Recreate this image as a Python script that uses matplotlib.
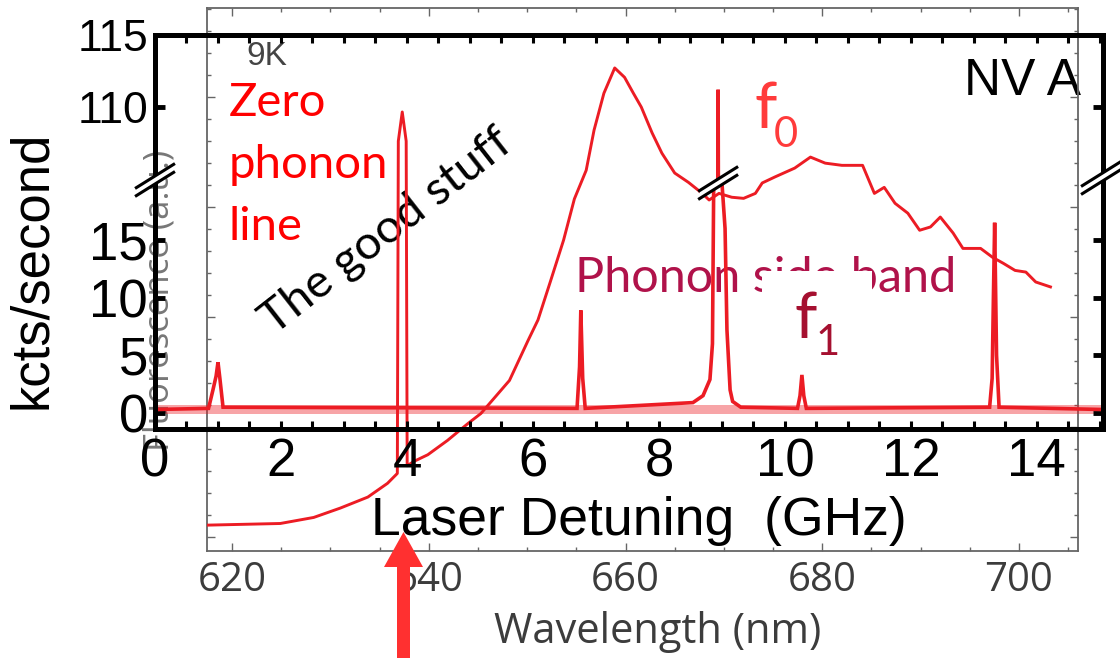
import numpy as np
import matplotlib
matplotlib.use("Agg")
import matplotlib.pyplot as plt
from matplotlib.patches import Polygon, Rectangle
from matplotlib.lines import Line2D
from matplotlib.ticker import MultipleLocator

plt.rcParams["font.family"] = ["Liberation Sans", "DejaVu Sans"]

# ---------------- data ----------------
# Fluorescence spectrum of the NV centre at 9 K (arbitrary units)
wavelength_nm = [617.45, 624.9, 628.3, 631.0, 633.8, 635.8, 636.8, 636.9, 637.3, 637.7,
                 637.8, 638.5, 639.9, 641.9, 644.0, 645.3, 648.2, 650.1, 651.1, 652.4,
                 653.7, 654.8, 656.0, 656.8, 657.8, 658.9, 659.9, 660.8, 661.6, 662.7,
                 663.7, 665.0, 666.4, 667.8, 668.5, 669.5, 670.8, 672.0, 673.2, 673.9,
                 675.2, 677.2, 678.8, 680.3, 682.0, 684.1, 685.3, 686.3, 687.4, 688.7,
                 689.9, 691.0, 692.0, 693.3, 694.3, 696.1, 697.3, 698.4, 699.6, 700.7,
                 701.7, 703.2]
fluorescence_au = [0.022, 0.025, 0.036, 0.053, 0.073, 0.098, 0.116, 0.720, 0.773, 0.720,
                   0.130, 0.138, 0.150, 0.176, 0.207, 0.225, 0.285, 0.358, 0.395, 0.467,
                   0.540, 0.615, 0.667, 0.740, 0.807, 0.853, 0.836, 0.807, 0.782, 0.735,
                   0.698, 0.662, 0.645, 0.625, 0.613, 0.625, 0.618, 0.616, 0.625, 0.644,
                   0.655, 0.671, 0.691, 0.680, 0.676, 0.676, 0.625, 0.636, 0.607, 0.589,
                   0.558, 0.564, 0.582, 0.553, 0.525, 0.525, 0.509, 0.498, 0.485, 0.482,
                   0.464, 0.455]

# Photoluminescence excitation scan (kcts/second vs laser detuning)
detuning_ghz = [0.00, 0.85, 0.92, 0.97, 1.00, 1.03, 1.08,
                6.70, 6.74, 6.76, 6.79, 6.83,
                8.54, 8.70, 8.81, 8.85, 8.87, 8.90, 8.94, 8.97, 9.00, 9.05, 9.08, 9.13, 9.17, 9.30,
                10.20, 10.24, 10.27, 10.30, 10.34,
                13.25, 13.29, 13.31, 13.33, 13.36, 13.40, 15.05]
kcts = [0.3, 0.4, 2.0, 3.2, 4.4, 3.0, 0.5,
        0.4, 4.0, 8.9, 3.0, 0.4,
        0.9, 1.5, 2.9, 6.0, 20.0, 60.0, 111.2, 60.0, 20.0, 16.0, 7.2, 2.0, 1.0, 0.5,
        0.4, 1.5, 3.3, 1.5, 0.4,
        0.5, 3.0, 10.0, 16.5, 5.0, 0.5, 0.3]
noise_band_kcts = (-0.1, 0.7)

wl_ticks = [620, 640, 660, 680, 700]
det_ticks = [0, 2, 4, 6, 8, 10, 12, 14]
low_ticks = [0, 5, 10, 15]
high_ticks = [110, 115]

# ---------------- figure ----------------
W, H = 1120, 658
fig = plt.figure(figsize=(W / 100, H / 100), dpi=100)


def fx(x):
    return x / W


def fy(y):
    return 1 - y / H


def box(l, t, r, b):
    return [fx(l), fy(b), (r - l) / W, (b - t) / H]


RED = "#ec1c24"
GREY = "#3c3c3c"

# --- spectrum panel (behind) ---
ax_bg = fig.add_axes(box(207, 8, 1078, 551), zorder=0)
ax_bg.plot(wavelength_nm, fluorescence_au, color=RED, lw=2.1, zorder=3)
ax_bg.set_xlim(617.45, 706.0)
ax_bg.set_ylim(-0.025, 0.962)
ax_bg.set_xticks(wl_ticks)
ax_bg.xaxis.set_minor_locator(MultipleLocator(5))
ax_bg.yaxis.set_major_locator(MultipleLocator(0.2))
ax_bg.yaxis.set_minor_locator(MultipleLocator(0.04))
ax_bg.tick_params(axis="both", which="both", direction="in", colors="#666666",
                  top=True, right=True, width=1.0)
ax_bg.tick_params(which="major", length=6)
ax_bg.tick_params(which="minor", length=3)
ax_bg.tick_params(axis="x", labelsize=29, labelcolor=GREY, pad=7)
ax_bg.tick_params(axis="y", labelleft=False)
for lab in ax_bg.get_xticklabels():
    lab.set_fontfamily("Open Sans")
for s in ax_bg.spines.values():
    s.set_color("#666666")
    s.set_linewidth(1.3)
ax_bg.text(fx(658), fy(643), "Wavelength (nm)", transform=fig.transFigure,
           ha="center", va="baseline", fontsize=30, color=GREY, family="Open Sans")
ax_bg.text(fx(160), fy(300), "Fluorescence (a.u.)", transform=fig.transFigure,
           ha="center", va="center", rotation=90, fontsize=25, color="#777777",
           family="Open Sans")
ax_bg.text(fx(246), fy(65), "9K", transform=fig.transFigure, ha="left",
           va="baseline", fontsize=24, color="#444444")

# annotations on the spectrum
ax_bg.text(fx(229), fy(116), "Zero", transform=fig.transFigure, color="#ff0000",
           fontsize=34, family="Lato", va="baseline", zorder=1)
ax_bg.text(fx(229), fy(178), "phonon", transform=fig.transFigure, color="#ff0000",
           fontsize=34, family="Lato", va="baseline", zorder=1)
ax_bg.text(fx(229), fy(240), "line", transform=fig.transFigure, color="#ff0000",
           fontsize=34, family="Lato", va="baseline", zorder=1)
ax_bg.text(fx(386), fy(231), "The good stuff", transform=fig.transFigure,
           color="black", fontsize=34, family="Lato", rotation=38,
           ha="center", va="center", rotation_mode="anchor", zorder=1)
ax_bg.text(fx(575), fy(292), "Phonon side band", transform=fig.transFigure,
           color="#b0124a", fontsize=35, family="Lato", va="baseline", zorder=1)
ax_bg.add_patch(Rectangle((fx(762), fy(372)), (872 - 762) / W, (372 - 271) / H,
                          transform=fig.transFigure, facecolor="white",
                          edgecolor="none", zorder=1.5, clip_on=False))
ax_bg.text(fx(795), fy(338), "f", transform=fig.transFigure, color="#a51030",
           fontsize=46, family="Lato", va="baseline", zorder=2)
ax_bg.text(fx(816), fy(355), "1", transform=fig.transFigure, color="#a51030",
           fontsize=30, family="Lato", va="baseline", zorder=2)
ax_bg.text(fx(755), fy(128), "f", transform=fig.transFigure, color="#ff3b3b",
           fontsize=46, family="Lato", va="baseline", zorder=2)
ax_bg.text(fx(774), fy(147), "0", transform=fig.transFigure, color="#ff3b3b",
           fontsize=30, family="Lato", va="baseline", zorder=2)
ax_bg.text(fx(1081), fy(95), "NV A", transform=fig.transFigure, color="black",
           fontsize=37, ha="right", va="baseline", zorder=2)

# --- excitation scan (front), broken y axis ---
ax_up = fig.add_axes(box(155, 35, 1103, 185), facecolor="none", zorder=2)
ax_lo = fig.add_axes(box(155, 185, 1103, 429), facecolor="none", zorder=2)

for ax in (ax_up, ax_lo):
    ax.fill_between([0, 15.05], *noise_band_kcts, color=RED, alpha=0.4, lw=0)
    ax.plot(detuning_ghz, kcts, color=RED, lw=2.6, solid_joinstyle="miter")
    ax.set_xlim(0, 15.05)
    ax.xaxis.set_major_locator(MultipleLocator(2))
    ax.xaxis.set_minor_locator(MultipleLocator(0.5))
    for s in ax.spines.values():
        s.set_linewidth(3.6)
    ax.tick_params(axis="x", which="both", direction="in", length=6, width=2.2)
    ax.tick_params(axis="y", which="both", direction="in", length=7, width=3.5,
                   left=True, right=True, pad=5)

ax_up.set_ylim(104.58, 115)
ax_up.set_yticks(high_ticks)
ax_up.spines["bottom"].set_visible(False)
ax_up.tick_params(axis="x", which="both", top=True, bottom=False, labelbottom=False)
ax_up.tick_params(axis="y", labelsize=32)

ax_lo.set_ylim(-1.39, 19.77)
ax_lo.set_yticks(low_ticks)
ax_lo.set_xticks(det_ticks)
ax_lo.spines["top"].set_visible(False)
ax_lo.tick_params(axis="x", which="both", top=False, bottom=True, labelsize=38, pad=6)
ax_lo.tick_params(axis="y", labelsize=38)

fig.text(fx(32), fy(270), "kcts/second", rotation=90, ha="center", va="center",
         fontsize=38)
fig.text(fx(639), fy(535), "Laser Detuning  (GHz)", ha="center", va="baseline",
         fontsize=38.5, zorder=5)


# axis-break marks
def break_mark(cx, cy, half_len=22, gap=8, angle=32):
    th = np.radians(angle)
    dx, dy = half_len * np.cos(th), half_len * np.sin(th)
    a = (cx - dx, cy + dy)
    b = (cx + dx, cy - dy)
    g = gap / 2
    quad = [(a[0], a[1] - g), (b[0], b[1] - g), (b[0], b[1] + g), (a[0], a[1] + g)]
    fig.add_artist(Polygon([(fx(x), fy(y)) for x, y in quad], closed=True,
                           transform=fig.transFigure, facecolor="white",
                           edgecolor="none", zorder=10))
    for off in (-g, g):
        fig.add_artist(Line2D([fx(a[0]), fx(b[0])], [fy(a[1] + off), fy(b[1] + off)],
                              transform=fig.transFigure, color="black", lw=2.2,
                              zorder=11))


fig.canvas.draw()
peak_x = detuning_ghz[int(np.argmax(kcts))]
peak_px = ax_lo.transData.transform((peak_x, 0))[0]
break_mark(155, 180)
break_mark(peak_px, 183)
break_mark(1101, 178)

# excitation arrow at the zero-phonon line
arrow = [(397, 680), (397, 567), (384, 567), (403.5, 532), (423, 567), (410, 567), (410, 680)]
fig.add_artist(Polygon([(fx(x), fy(y)) for x, y in arrow], closed=True,
                       transform=fig.transFigure, facecolor="#ff3030",
                       edgecolor="none", zorder=12, clip_on=False))

fig.savefig("out.png", dpi=100)
